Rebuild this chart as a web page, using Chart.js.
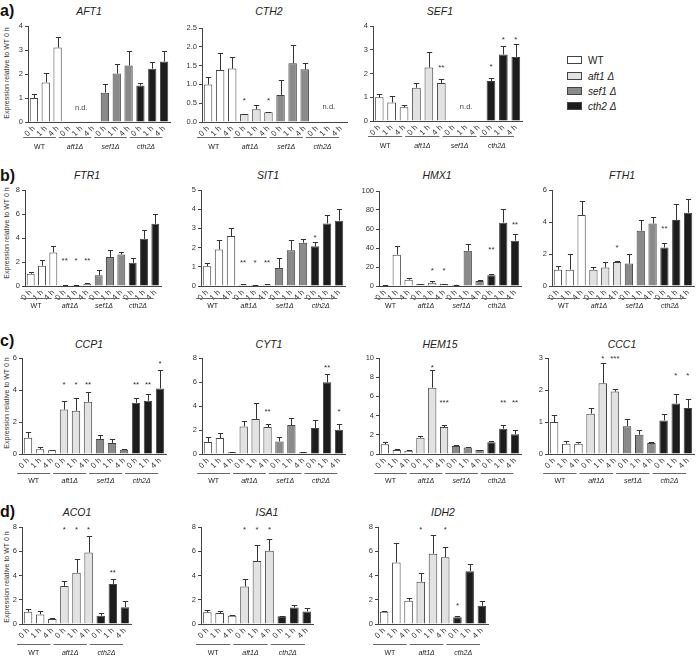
<!DOCTYPE html>
<html><head><meta charset="utf-8">
<script src="https://cdn.jsdelivr.net/npm/chart.js@4.4.1/dist/chart.umd.min.js"></script>
<style>
html,body{margin:0;padding:0;background:#fff;}
body{width:696px;height:659px;position:relative;overflow:hidden;font-family:"Liberation Sans",Arial,sans-serif;}
canvas{position:absolute;}
.t{position:absolute;font-style:italic;font-size:10.5px;color:#222;transform:translate(-50%,-50%);white-space:nowrap;}
.p{position:absolute;font-weight:bold;font-size:16px;color:#111;transform:translateY(-50%);}
.yt{position:absolute;font-size:7px;color:#333;transform:translate(-50%,-50%) rotate(-90deg);white-space:nowrap;}
.lb{position:absolute;width:13px;height:6px;border:1px solid #444;}
.lt{position:absolute;font-size:10px;color:#222;transform:translateY(-50%);white-space:nowrap;}
</style></head><body>
<script>
// ---------- categories ----------
const timePoints = ["0 h", "1 h", "4 h"];
const strains4 = ["WT", "aft1Δ", "sef1Δ", "cth2Δ"];
const strains3 = ["WT", "aft1Δ", "cth2Δ"];

// ---------- a) ----------
const AFT1_mean = [1.0, 1.65, 3.1, 0, 0, 0, 1.22, 2.02, 2.35, 1.52, 2.22, 2.52];
const AFT1_sem  = [0.18, 0.4, 0.45, 0, 0, 0, 0.38, 0.4, 0.6, 0.11, 0.3, 0.43];
const AFT1_sig  = ["", "", "", "", "", "", "", "", "", "", "", ""];
const AFT1_sigAt = [null, null, null, null, null, null, null, null, null, null, null, null];

const CTH2_mean = [1.0, 1.38, 1.42, 0.21, 0.34, 0.26, 0.72, 1.56, 1.4, 0, 0, 0];
const CTH2_sem  = [0.2, 0.45, 0.3, 0.01, 0.11, 0.01, 0.4, 0.49, 0.16, 0, 0, 0];
const CTH2_sig  = ["", "", "", "*", "", "*", "", "", "", "", "", ""];
const CTH2_sigAt = [null, null, null, 0.64, null, 0.64, null, null, null, null, null, null];

const SEF1_mean = [1.0, 0.78, 0.58, 1.4, 2.25, 1.6, 0, 0, 0, 1.68, 2.8, 2.7];
const SEF1_sem  = [0.12, 0.29, 0.1, 0.2, 0.65, 0.17, 0, 0, 0, 0.14, 0.37, 0.53];
const SEF1_sig  = ["", "", "", "", "", "**", "", "", "", "*", "*", "*"];
const SEF1_sigAt = [null, null, null, null, null, 2.36, null, null, null, 2.4, 3.54, 3.54];

// ---------- b) ----------
const FTR1_mean = [1.02, 1.69, 2.8, 0.05, 0.08, 0.18, 0.89, 2.41, 2.63, 1.94, 3.93, 5.18];
const FTR1_sem  = [0.18, 0.5, 0.5, 0.02, 0.02, 0.07, 0.41, 0.61, 0.17, 0.39, 0.75, 0.83];
const FTR1_sig  = ["", "", "", "**", "*", "**", "", "", "", "", "", ""];
const FTR1_sigAt = [null, null, null, 2.3, 2.3, 2.3, null, null, null, null, null, null];

const SIT1_mean = [1.03, 1.9, 2.6, 0.06, 0.05, 0.06, 0.94, 1.86, 2.25, 2.07, 3.26, 3.4];
const SIT1_sem  = [0.17, 0.49, 0.4, 0.02, 0.02, 0.02, 0.52, 0.56, 0.19, 0.21, 0.43, 0.59];
const SIT1_sig  = ["", "", "", "**", "*", "**", "", "", "", "*", "", ""];
const SIT1_sigAt = [null, null, null, 1.34, 1.34, 1.34, null, null, null, 2.65, null, null];

const HMX1_mean = [0.8, 33, 6.7, 2, 3.3, 2, 1.2, 37, 5.3, 11.2, 66.7, 47.7];
const HMX1_sem  = [0.3, 8.8, 1.7, 0.5, 2, 0.3, 0.3, 7.5, 0.7, 1.1, 14.7, 7.3];
const HMX1_sig  = ["", "", "", "", "*", "*", "", "", "", "**", "", "**"];
const HMX1_sigAt = [null, null, null, null, 18.2, 18.2, null, null, null, 40.4, null, 67.4];

const FTH1_mean = [1.02, 1.02, 4.43, 1.02, 1.15, 1.5, 1.4, 3.45, 3.91, 2.41, 4.12, 4.58];
const FTH1_sem  = [0.21, 0.95, 0.9, 0.17, 0.35, 0.07, 0.63, 0.67, 0.42, 0.25, 1.01, 0.84];
const FTH1_sig  = ["", "", "", "", "", "*", "", "", "", "**", "", ""];
const FTH1_sigAt = [null, null, null, null, null, 2.55, null, null, null, 3.74, null, null];

// ---------- c) ----------
const CCP1_mean = [1.01, 0.3, 0.23, 2.78, 2.7, 3.26, 0.93, 0.69, 0.27, 3.2, 3.33, 4.1];
const CCP1_sem  = [0.36, 0.12, 0.04, 0.52, 0.82, 0.63, 0.23, 0.26, 0.03, 0.27, 0.4, 1.16];
const CCP1_sig  = ["", "", "", "*", "*", "**", "", "", "", "**", "**", "*"];
const CCP1_sigAt = [null, null, null, 4.46, 4.46, 4.46, null, null, null, 4.46, 4.46, 5.79];

const CYT1_mean = [1.0, 1.33, 0.14, 2.3, 2.92, 2.25, 1.05, 2.42, 0.14, 2.17, 5.97, 2.03];
const CYT1_sem  = [0.42, 0.42, 0.06, 0.42, 1.33, 0.28, 0.37, 0.58, 0.03, 0.63, 0.7, 0.5];
const CYT1_sig  = ["", "", "", "", "", "**", "", "", "", "", "**", "*"];
const CYT1_sigAt = [null, null, null, null, null, 3.69, null, null, null, null, 7.39, 3.69];

const HEM15_mean = [1.02, 0.42, 0.35, 1.68, 6.9, 2.8, 0.84, 0.67, 0.42, 1.23, 2.63, 2.07];
const HEM15_sem  = [0.21, 0.11, 0.07, 0.18, 1.8, 0.25, 0.07, 0.08, 0.03, 0.1, 0.39, 0.39];
const HEM15_sig  = ["", "", "", "", "*", "***", "", "", "", "", "**", "**"];
const HEM15_sigAt = [null, null, null, null, 9.2, 5.6, null, null, null, null, 5.6, 5.6];

const CCC1_mean = [1.0, 0.32, 0.32, 1.26, 2.21, 1.95, 0.87, 0.6, 0.34, 1.05, 1.58, 1.44];
const CCC1_sem  = [0.21, 0.1, 0.05, 0.18, 0.63, 0.07, 0.22, 0.16, 0.02, 0.19, 0.31, 0.27];
const CCC1_sig  = ["", "", "", "", "*", "***", "", "", "", "", "*", "*"];
const CCC1_sigAt = [null, null, null, null, 3.05, 3.05, null, null, null, null, 2.53, 2.53];

// ---------- d) ----------
const ACO1_mean = [1.01, 0.79, 0.41, 3.14, 4.23, 5.9, 0.68, 3.3, 1.39];
const ACO1_sem  = [0.22, 0.25, 0.08, 0.44, 1.12, 1.34, 0.22, 0.39, 0.47];
const ACO1_sig  = ["", "", "", "*", "*", "*", "", "**", ""];
const ACO1_sigAt = [null, null, null, 8.0, 8.0, 8.0, null, 4.4, null];

const ISA1_mean = [0.96, 0.9, 0.68, 3.09, 5.19, 6.04, 0.63, 1.37, 1.04];
const ISA1_sem  = [0.16, 0.19, 0.09, 0.65, 1.31, 1.01, 0.05, 0.21, 0.27];
const ISA1_sig  = ["", "", "", "*", "*", "*", "", "", ""];
const ISA1_sigAt = [null, null, null, 8.0, 8.0, 8.0, null, null, null];

const IDH2_mean = [1.02, 5.08, 1.92, 3.49, 5.8, 5.5, 0.55, 4.36, 1.5];
const IDH2_sem  = [0.08, 1.6, 0.22, 0.71, 1.5, 0.82, 0.14, 0.61, 0.42];
const IDH2_sig  = ["", "", "", "*", "", "*", "*", "", ""];
const IDH2_sigAt = [null, null, null, 8.0, null, 8.0, 1.73, null, null];

// ---------- styles ----------
const FONT = "Liberation Sans";
const fillOf = {"WT": "#ffffff", "aft1Δ": "#e2e2e2", "sef1Δ": "#8a8a8a", "cth2Δ": "#1d1d1d"};
const AXIS = "#444";

function addDiv(cls, text, x, y, extra) {
  const d = document.createElement("div");
  d.className = cls; d.textContent = text;
  d.style.left = x + "px"; d.style.top = y + "px";
  if (extra) Object.assign(d.style, extra);
  document.body.appendChild(d);
  return d;
}

function panel(p) {
  const yW = 20, padTop = 8, padRight = 2;
  const xH = p.row.lb + 7;
  const left = Math.round(p.axisX) - yW;
  const top = Math.round(p.top) - padTop;
  const W = Math.round(p.right) - left + padRight;
  const H = Math.round(p.bottom) - Math.round(p.top) + padTop + xH;
  const cv = document.createElement("canvas");
  cv.width = W; cv.height = H;
  cv.style.left = left + "px"; cv.style.top = top + "px";
  cv.style.width = W + "px"; cv.style.height = H + "px";
  document.body.appendChild(cv);

  const labels = [], colors = [], groups = [];
  p.strains.forEach((s, gi) => {
    groups.push({name: s, first: gi * timePoints.length, last: gi * timePoints.length + timePoints.length - 1});
    timePoints.forEach(t => { labels.push(t); colors.push(fillOf[s]); });
  });

  const overlay = {
    id: "ov" + p.title,
    afterDatasetsDraw(chart) {
      const ctx = chart.ctx, xs = chart.scales.x, ys = chart.scales.y;
      const cw = xs.getPixelForValue(1) - xs.getPixelForValue(0);
      ctx.save();
      // error bars
      ctx.strokeStyle = "#333"; ctx.lineWidth = 1;
      p.mean.forEach((m, i) => {
        if (!p.sem[i]) return;
        const px = Math.round(xs.getPixelForValue(i)) + 0.5;
        const y0 = ys.getPixelForValue(m);
        const y1 = Math.round(ys.getPixelForValue(m + p.sem[i])) + 0.5;
        ctx.beginPath();
        ctx.moveTo(px, y0); ctx.lineTo(px, y1);
        ctx.moveTo(px - cw * 0.22, y1); ctx.lineTo(px + cw * 0.22, y1);
        ctx.stroke();
      });
      // significance
      ctx.fillStyle = "#333"; ctx.textAlign = "center"; ctx.textBaseline = "alphabetic";
      ctx.font = "8px '" + FONT + "'";
      p.sig.forEach((s, i) => {
        if (!s || p.sigAt[i] == null) return;
        ctx.fillText(s, xs.getPixelForValue(i), ys.getPixelForValue(p.sigAt[i]) + 4.6);
      });
      // not detected
      if (p.nd != null) {
        const g = groups[p.nd];
        ctx.font = "7.5px '" + FONT + "'"; ctx.fillStyle = "#444"; ctx.textBaseline = "middle";
        ctx.fillText("n.d.", xs.getPixelForValue((g.first + g.last) / 2), ys.getPixelForValue(p.ndAt));
      }
      // group lines & labels
      const base = ys.getPixelForValue(0);
      groups.forEach(g => {
        const a = xs.getPixelForValue(g.first) - 0.9 * cw;
        const b = xs.getPixelForValue(g.last) - 0.15 * cw;
        const yl = Math.round(base + p.row.ul) + 0.5;
        ctx.strokeStyle = "#666"; ctx.lineWidth = 1;
        ctx.beginPath(); ctx.moveTo(a, yl); ctx.lineTo(b, yl); ctx.stroke();
        ctx.fillStyle = "#222"; ctx.textBaseline = "middle"; ctx.textAlign = "center";
        ctx.font = (g.name === "WT" ? "" : "italic ") + "7px '" + FONT + "'";
        ctx.fillText(g.name, (a + b) / 2, base + p.row.lb);
      });
      ctx.restore();
    }
  };

  new Chart(cv, {
    type: "bar",
    data: {labels, datasets: [{
      data: p.mean, backgroundColor: colors, borderColor: AXIS, borderWidth: 1,
      barPercentage: 0.7, categoryPercentage: 1.0
    }]},
    options: {
      responsive: false, animation: false, devicePixelRatio: 1, events: [],
      layout: {padding: {top: padTop, right: padRight, left: 0, bottom: 0}},
      plugins: {legend: {display: false}, tooltip: {enabled: false}, title: {display: false}},
      scales: {
        x: {
          grid: {drawOnChartArea: false, drawTicks: false, color: AXIS},
          border: {display: true, color: AXIS},
          ticks: {autoSkip: false, minRotation: 45, maxRotation: 45, padding: 2,
                  font: {family: FONT, size: 8}, color: "#333"},
          afterFit(s) { s.height = xH; s.paddingLeft = 0; s.paddingRight = 0; }
        },
        y: {
          min: 0, max: p.yMax,
          grid: {drawOnChartArea: false, drawTicks: true, tickLength: 3, color: AXIS},
          border: {display: true, color: AXIS},
          ticks: {stepSize: p.yStep, padding: 2, font: {family: FONT, size: 7.5}, color: "#333",
                  callback: v => p.dec ? v.toFixed(1) : String(v)},
          afterFit(s) { s.width = yW; s.paddingTop = 0; s.paddingBottom = 0; }
        }
      }
    },
    plugins: [overlay]
  });
  addDiv("t", p.title, p.tx, p.ty);
}

const rowA = {ul: 15, lb: 25}, rowB = {ul: 12, lb: 20}, rowC = {ul: 19, lb: 27}, rowD = {ul: 20, lb: 29};

// panel letters and y titles
addDiv("p", "a)", 0, 11); addDiv("p", "b)", 0, 175.5); addDiv("p", "c)", 0, 340.5); addDiv("p", "d)", 0, 511.5);
const yTitle = "Expression relative to WT 0 h";
addDiv("yt", yTitle, 5.5, 73); addDiv("yt", yTitle, 5.5, 233); addDiv("yt", yTitle, 5.5, 403); addDiv("yt", yTitle, 5.5, 577);

// row a
panel({title: "AFT1", strains: strains4, mean: AFT1_mean, sem: AFT1_sem, sig: AFT1_sig, sigAt: AFT1_sigAt,
  nd: 1, ndAt: 0.6, yMax: 4, yStep: 1, axisX: 27.6, right: 170, top: 26, bottom: 122, row: rowA, tx: 89, ty: 11});
panel({title: "CTH2", strains: strains4, mean: CTH2_mean, sem: CTH2_sem, sig: CTH2_sig, sigAt: CTH2_sigAt,
  nd: 3, ndAt: 0.4, yMax: 2.5, yStep: 0.5, dec: true, axisX: 202, right: 347, top: 27.7, bottom: 122, row: rowA, tx: 269, ty: 11});
panel({title: "SEF1", strains: strains4, mean: SEF1_mean, sem: SEF1_sem, sig: SEF1_sig, sigAt: SEF1_sigAt,
  nd: 2, ndAt: 0.58, yMax: 4, yStep: 1, axisX: 373, right: 522, top: 25.5, bottom: 121, row: rowA, tx: 440, ty: 11});
// row b
panel({title: "FTR1", strains: strains4, mean: FTR1_mean, sem: FTR1_sem, sig: FTR1_sig, sigAt: FTR1_sigAt,
  yMax: 8, yStep: 2, axisX: 24.5, right: 161, top: 189.5, bottom: 285.7, row: rowB, tx: 87, ty: 175});
panel({title: "SIT1", strains: strains4, mean: SIT1_mean, sem: SIT1_sem, sig: SIT1_sig, sigAt: SIT1_sigAt,
  yMax: 5, yStep: 1, axisX: 201, right: 345, top: 189.5, bottom: 285.7, row: rowB, tx: 268, ty: 175});
panel({title: "HMX1", strains: strains4, mean: HMX1_mean, sem: HMX1_sem, sig: HMX1_sig, sigAt: HMX1_sigAt,
  yMax: 100, yStep: 20, axisX: 379.3, right: 520.6, top: 190.5, bottom: 285.7, row: rowB, tx: 437, ty: 175});
panel({title: "FTH1", strains: strains4, mean: FTH1_mean, sem: FTH1_sem, sig: FTH1_sig, sigAt: FTH1_sigAt,
  yMax: 6, yStep: 2, axisX: 552, right: 694, top: 190, bottom: 285.7, row: rowB, tx: 622, ty: 175});
// row c
panel({title: "CCP1", strains: strains4, mean: CCP1_mean, sem: CCP1_sem, sig: CCP1_sig, sigAt: CCP1_sigAt,
  yMax: 6, yStep: 2, axisX: 22.3, right: 165.5, top: 358.3, bottom: 453.5, row: rowC, tx: 89, ty: 344});
panel({title: "CYT1", strains: strains4, mean: CYT1_mean, sem: CYT1_sem, sig: CYT1_sig, sigAt: CYT1_sigAt,
  yMax: 8, yStep: 2, axisX: 202, right: 345, top: 358.3, bottom: 453.5, row: rowC, tx: 269, ty: 344});
panel({title: "HEM15", strains: strains4, mean: HEM15_mean, sem: HEM15_sem, sig: HEM15_sig, sigAt: HEM15_sigAt,
  yMax: 10, yStep: 2, axisX: 379.3, right: 521, top: 358.3, bottom: 453.5, row: rowC, tx: 440, ty: 344});
panel({title: "CCC1", strains: strains4, mean: CCC1_mean, sem: CCC1_sem, sig: CCC1_sig, sigAt: CCC1_sigAt,
  yMax: 3, yStep: 1, axisX: 548.4, right: 694, top: 358.3, bottom: 453.5, row: rowC, tx: 622, ty: 344});
// row d
panel({title: "ACO1", strains: strains3, mean: ACO1_mean, sem: ACO1_sem, sig: ACO1_sig, sigAt: ACO1_sigAt,
  yMax: 8, yStep: 2, axisX: 21.7, right: 131.4, top: 527, bottom: 624, row: rowD, tx: 77, ty: 512});
panel({title: "ISA1", strains: strains3, mean: ISA1_mean, sem: ISA1_sem, sig: ISA1_sig, sigAt: ISA1_sigAt,
  yMax: 8, yStep: 2, axisX: 201, right: 312.5, top: 527, bottom: 624, row: rowD, tx: 267, ty: 512});
panel({title: "IDH2", strains: strains3, mean: IDH2_mean, sem: IDH2_sem, sig: IDH2_sig, sigAt: IDH2_sigAt,
  yMax: 8, yStep: 2, axisX: 378, right: 488, top: 527, bottom: 623.5, row: rowD, tx: 443, ty: 512});

// legend
const legendNames = [["WT", false], ["aft1 Δ", true], ["sef1 Δ", true], ["cth2 Δ", true]];
legendNames.forEach((ln, i) => {
  const cy = [60, 76, 91, 106][i];
  addDiv("lb", "", 567, cy - 4, {background: fillOf[strains4[i]]});
  const t = addDiv("lt", ln[0], 588, cy);
  if (ln[1]) t.style.fontStyle = "italic";
});
</script>
</body></html>
